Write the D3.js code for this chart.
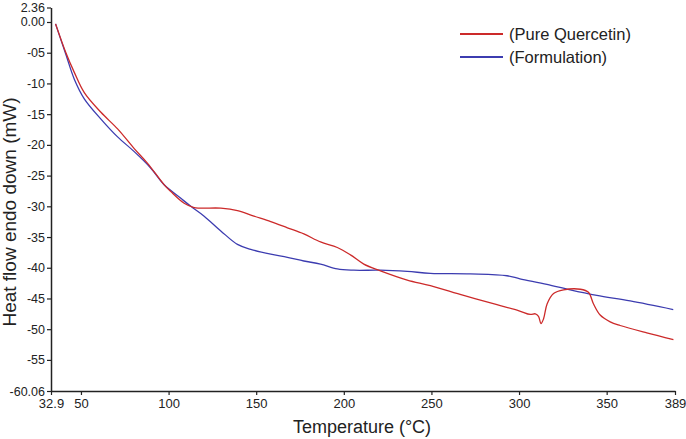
<!DOCTYPE html>
<html><head><meta charset="utf-8">
<script src="https://cdn.jsdelivr.net/npm/d3@7"></script>
<style>body{margin:0;background:#fff}svg{display:block}text{font-family:"Liberation Sans",Arial,sans-serif}</style>
</head><body><svg id="c" width="686" height="439"></svg>
<script>
const seriesNames = ["(Pure Quercetin)", "(Formulation)"];
const seriesColors = ["#cc2a2a", "#3c3cb0"];
const quercetinT = [35.5,41.4,46.2,51.9,61.4,70.9,80.4,88.0,97.5,101.3,108.9,114.6,129.8,139.3,148.7,158.3,167.8,177.2,186.7,196.3,203.8,211.4,220.9,236.2,249.4,268.4,287.4,300.0,306.4,309.3,311.1,312.5,314.0,316.0,319.7,325.4,335.0,339.6,342.5,346.3,352.0,357.7,372.9,388.1];
const quercetinV = [-0.3,-5.0,-8.2,-11.5,-14.7,-17.4,-20.6,-23.0,-26.5,-27.6,-29.5,-30.2,-30.3,-30.7,-31.6,-32.5,-33.5,-34.5,-35.8,-36.7,-37.9,-39.4,-40.5,-42.0,-42.9,-44.5,-46.0,-47.0,-47.6,-47.5,-47.9,-49.1,-48.3,-45.9,-44.2,-43.6,-43.5,-44.0,-45.9,-47.7,-48.8,-49.4,-50.6,-51.7];
const formulationT = [35.5,41.4,46.2,51.9,61.4,70.9,80.4,89.9,97.5,107.0,112.7,120.3,129.8,139.3,146.9,158.3,167.8,177.2,186.7,196.3,205.7,220.9,236.2,249.4,272.2,293.1,300.5,315.9,329.2,344.4,363.4,388.0];
const formulationV = [-0.3,-5.3,-9.3,-12.5,-15.8,-18.7,-21.1,-23.8,-26.5,-28.7,-30.0,-31.6,-34.0,-36.2,-37.0,-37.8,-38.3,-38.9,-39.4,-40.2,-40.4,-40.4,-40.6,-40.9,-41.0,-41.3,-41.8,-42.7,-43.6,-44.5,-45.4,-46.8];
const xTicks = [32.9,50,100,150,200,250,300,350,389];
const xTickLabels = ["32.9","50","100","150","200","250","300","350","389"];
const yTicks = [2.36,0,-5,-10,-15,-20,-25,-30,-35,-40,-45,-50,-55,-60.06];
const yTickLabels = ["2.36","0.00","-05","-10","-15","-20","-25","-30","-35","-40","-45","-50","-55","-60.06"];
const xLabel = "Temperature (°C)";
const yLabel = "Heat flow endo down (mW)";

const svg = d3.select("#c");
const L = 51, R = 675, T = 7.5, B = 391;
const x = d3.scaleLinear().domain([32.9, 389]).range([L, R]);
const y = d3.scaleLinear().domain([-60.06, 2.36]).range([B, T]);

const xAxis = svg.append("g").attr("transform", `translate(0,${B})`)
  .call(d3.axisBottom(x).tickValues(xTicks).tickSize(4).tickSizeOuter(0)
    .tickFormat((d,i) => xTickLabels[i]));
const yAxis = svg.append("g").attr("transform", `translate(${L},0)`)
  .call(d3.axisLeft(y).tickValues(yTicks).tickSize(4).tickSizeOuter(0)
    .tickFormat((d,i) => yTickLabels[i]));
[xAxis, yAxis].forEach(g => {
  g.selectAll("path.domain").attr("stroke", "#222").attr("stroke-width", 1.5);
  g.selectAll(".tick line").attr("stroke", "#222").attr("stroke-width", 1.2);
  g.selectAll(".tick text").attr("font-size", 13).attr("fill", "#222")
    .attr("font-family", '"Liberation Sans",Arial,sans-serif');
});
xAxis.selectAll(".tick text").attr("dy", "0.8em");
yAxis.selectAll(".tick text").attr("x", -6).attr("font-size", 12.5);

const line = d3.line().x(d => x(d[0])).y(d => y(d[1])).curve(d3.curveCatmullRom.alpha(0.5));
const data = [
  d3.zip(quercetinT, quercetinV),
  d3.zip(formulationT, formulationV)
];
[1, 0].forEach(i => {
  svg.append("path").datum(data[i]).attr("d", line)
    .attr("fill", "none").attr("stroke", seriesColors[i]).attr("stroke-width", 1.3);
});

svg.append("text").attr("x", 362).attr("y", 433).attr("text-anchor", "middle")
  .attr("font-size", 18).attr("fill", "#222").text(xLabel);
svg.append("text").attr("transform", "translate(16,212) rotate(-90)").attr("text-anchor", "middle")
  .attr("font-size", 19).attr("fill", "#222").text(yLabel);

const leg = svg.append("g");
seriesNames.forEach((n, i) => {
  const yy = 34 + i * 23;
  leg.append("line").attr("x1", 460).attr("x2", 503).attr("y1", yy).attr("y2", yy)
    .attr("stroke", seriesColors[i]).attr("stroke-width", 2);
  leg.append("text").attr("x", 509).attr("y", yy + 6).attr("font-size", 16.5)
    .attr("fill", "#222").text(n);
});
</script></body></html>
